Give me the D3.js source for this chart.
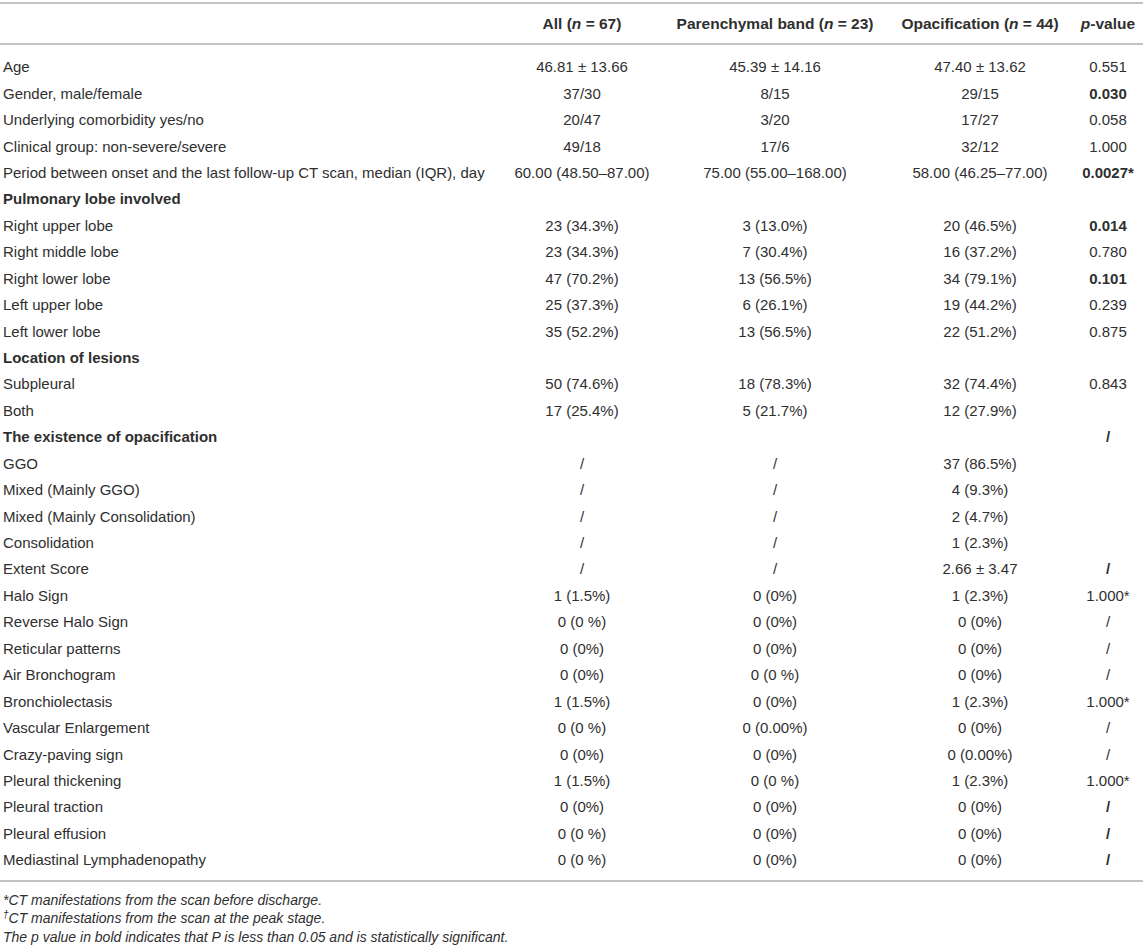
<!DOCTYPE html>
<html>
<head>
<meta charset="utf-8">
<script src="https://cdn.jsdelivr.net/npm/d3@7"></script>
<style>
  body { margin: 0; background: #fff; }
  svg text { font-family: "Liberation Sans", Arial, Helvetica, sans-serif; fill: #2f2f2f; }
</style>
</head>
<body>
<div id="table"></div>
<script>
// CT findings table: parenchymal band vs opacification groups

const rowLabels = [
  "Age", "Gender, male/female", "Underlying comorbidity yes/no",
  "Clinical group: non-severe/severe",
  "Period between onset and the last follow-up CT scan, median (IQR), day",
  "Pulmonary lobe involved",
  "Right upper lobe", "Right middle lobe", "Right lower lobe", "Left upper lobe", "Left lower lobe",
  "Location of lesions",
  "Subpleural", "Both",
  "The existence of opacification",
  "GGO", "Mixed (Mainly GGO)", "Mixed (Mainly Consolidation)", "Consolidation", "Extent Score",
  "Halo Sign", "Reverse Halo Sign", "Reticular patterns", "Air Bronchogram", "Bronchiolectasis",
  "Vascular Enlargement", "Crazy-paving sign", "Pleural thickening", "Pleural traction",
  "Pleural effusion", "Mediastinal Lymphadenopathy"
];

const sectionRows = ["Pulmonary lobe involved", "Location of lesions", "The existence of opacification"];

const allValues = [
  "46.81 ± 13.66", "37/30", "20/47", "49/18", "60.00 (48.50–87.00)", "",
  "23 (34.3%)", "23 (34.3%)", "47 (70.2%)", "25 (37.3%)", "35 (52.2%)", "",
  "50 (74.6%)", "17 (25.4%)", "",
  "/", "/", "/", "/", "/",
  "1 (1.5%)", "0 (0 %)", "0 (0%)", "0 (0%)", "1 (1.5%)",
  "0 (0 %)", "0 (0%)", "1 (1.5%)", "0 (0%)", "0 (0 %)", "0 (0 %)"
];

const bandValues = [
  "45.39 ± 14.16", "8/15", "3/20", "17/6", "75.00 (55.00–168.00)", "",
  "3 (13.0%)", "7 (30.4%)", "13 (56.5%)", "6 (26.1%)", "13 (56.5%)", "",
  "18 (78.3%)", "5 (21.7%)", "",
  "/", "/", "/", "/", "/",
  "0 (0%)", "0 (0%)", "0 (0%)", "0 (0 %)", "0 (0%)",
  "0 (0.00%)", "0 (0%)", "0 (0 %)", "0 (0%)", "0 (0%)", "0 (0%)"
];

const opacValues = [
  "47.40 ± 13.62", "29/15", "17/27", "32/12", "58.00 (46.25–77.00)", "",
  "20 (46.5%)", "16 (37.2%)", "34 (79.1%)", "19 (44.2%)", "22 (51.2%)", "",
  "32 (74.4%)", "12 (27.9%)", "",
  "37 (86.5%)", "4 (9.3%)", "2 (4.7%)", "1 (2.3%)", "2.66 ± 3.47",
  "1 (2.3%)", "0 (0%)", "0 (0%)", "0 (0%)", "1 (2.3%)",
  "0 (0%)", "0 (0.00%)", "1 (2.3%)", "0 (0%)", "0 (0%)", "0 (0%)"
];

const pValues = [
  "0.551", "0.030", "0.058", "1.000", "0.0027*", "",
  "0.014", "0.780", "0.101", "0.239", "0.875", "",
  "0.843", "", "/",
  "", "", "", "", "/",
  "1.000*", "/", "/", "/", "1.000*",
  "/", "/", "1.000*", "/", "/", "/"
];

// which p-value cells are printed in bold
const boldP = [
  false, true, false, false, true, false,
  true, false, true, false, false, false,
  false, false, true,
  false, false, false, false, true,
  false, false, false, false, false,
  false, false, false, true, true, true
];

const headers = [
  {key: "all", parts: [["All (", false], ["n", true], [" = 67)", false]]},
  {key: "band", parts: [["Parenchymal band (", false], ["n", true], [" = 23)", false]]},
  {key: "opac", parts: [["Opacification (", false], ["n", true], [" = 44)", false]]},
  {key: "p", parts: [["p", true], ["-value", false]]}
];

const footnotes = [
  [["*", false], ["CT manifestations from the scan before discharge.", false]],
  [["†", true], ["CT manifestations from the scan at the peak stage.", false]],
  [["The p value in bold indicates that P is less than 0.05 and is statistically significant.", false]]
];

const width = 1143, height = 948;
const fontSize = 15;

const svg = d3.select("#table").append("svg")
  .attr("width", width)
  .attr("height", height);

// column centres
const colX = d3.scaleOrdinal()
  .domain(["all", "band", "opac", "p"])
  .range([582, 775, 980, 1108]);

// row centres
const y = d3.scalePoint()
  .domain(d3.range(rowLabels.length))
  .range([67, 860]);

const lineColor = "#c2c2c2";
const rules = [3, 44, 881];
svg.selectAll("line.rule")
  .data(rules)
  .join("line")
  .attr("class", "rule")
  .attr("x1", 0).attr("x2", width)
  .attr("y1", d => d).attr("y2", d => d)
  .attr("stroke", lineColor)
  .attr("stroke-width", 2);

// header
const headerY = 24;
headers.forEach(h => {
  const t = svg.append("text")
    .attr("x", colX(h.key))
    .attr("y", headerY)
    .attr("dy", "0.35em")
    .attr("text-anchor", "middle")
    .attr("font-weight", "bold")
    .style("font-size", "15.5px");
  h.parts.forEach(p => {
    t.append("tspan")
      .attr("font-style", p[1] ? "italic" : "normal")
      .text(p[0]);
  });
});

// body rows
const rows = rowLabels.map((label, i) => ({
  i: i,
  label: label,
  section: sectionRows.includes(label),
  all: allValues[i],
  band: bandValues[i],
  opac: opacValues[i],
  p: pValues[i],
  boldP: boldP[i]
}));

const rowG = svg.selectAll("g.row")
  .data(rows)
  .join("g")
  .attr("class", "row")
  .attr("transform", d => `translate(0, ${y(d.i)})`);

rowG.append("text")
  .attr("x", 3)
  .attr("dy", "0.35em")
  .attr("font-weight", d => d.section ? "bold" : "normal")
  .style("font-size", fontSize + "px")
  .text(d => d.label);

["all", "band", "opac", "p"].forEach(key => {
  rowG.append("text")
    .attr("x", colX(key))
    .attr("dy", "0.35em")
    .attr("text-anchor", "middle")
    .attr("font-weight", d => key === "p" && d.boldP ? "bold" : "normal")
    .style("font-size", fontSize + "px")
    .text(d => d[key]);
});

// footnotes
const footY = d3.scalePoint()
  .domain(d3.range(footnotes.length))
  .range([900, 937]);

footnotes.forEach((parts, i) => {
  const t = svg.append("text")
    .attr("x", 3)
    .attr("y", footY(i))
    .attr("dy", "0.35em")
    .attr("font-style", "italic")
    .style("font-size", "14px");
  parts.forEach(p => {
    const s = t.append("tspan").text(p[0]);
    if (p[1]) s.attr("baseline-shift", "super").style("font-size", "10px");
  });
});
</script>
</body>
</html>
